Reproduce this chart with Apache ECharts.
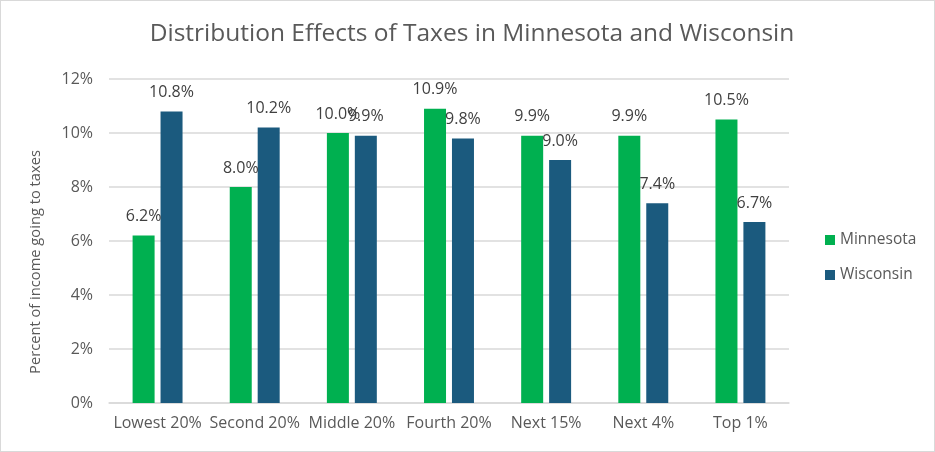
<!DOCTYPE html>
<html>
<head>
<meta charset="utf-8">
<script src="https://cdn.jsdelivr.net/npm/echarts@6/dist/echarts.min.js"></script>
<style>
  html, body { margin: 0; padding: 0; background: #fff; }
  #chart { width: 933px; height: 450px; border: 1px solid #d9d9d9; }
</style>
</head>
<body>
<div id="chart"></div>
<script>
// income groups
var categories = ['Lowest 20%', 'Second 20%', 'Middle 20%', 'Fourth 20%', 'Next 15%', 'Next 4%', 'Top 1%'];
// share of income going to taxes, percent
var minnesota = [6.2, 8.0, 10.0, 10.9, 9.9, 9.9, 10.5];
var wisconsin = [10.8, 10.2, 9.9, 9.8, 9.0, 7.4, 6.7];

var font = '"Open Sans", sans-serif';

var chart = echarts.init(document.getElementById('chart'));

function labelCfg() {
  return {
    show: true,
    position: 'top',
    distance: 11,
    color: '#404040',
    fontSize: 16,
    fontFamily: font,
    formatter: function (p) { return p.value.toFixed(1) + '%'; }
  };
}

chart.setOption({
  backgroundColor: '#fff',
  animation: false,
  title: {
    text: 'Distribution Effects of Taxes in Minnesota and Wisconsin',
    left: 466,
    top: 16,
    textAlign: 'center',
    textStyle: { color: '#595959', fontSize: 24.5, fontWeight: 'normal', fontFamily: font }
  },
  legend: {
    orient: 'vertical',
    left: 819,
    top: 226,
    itemWidth: 10,
    itemHeight: 10,
    itemGap: 19,
    icon: 'rect',
    textStyle: { color: '#595959', fontSize: 15.5, fontFamily: font }
  },
  grid: { left: 108, right: 145, top: 78, bottom: 48 },
  xAxis: {
    type: 'category',
    data: categories,
    axisLine: { lineStyle: { color: '#d9d9d9', width: 1.5 } },
    axisTick: { show: false },
    axisLabel: { color: '#595959', fontSize: 16, fontFamily: font, margin: 12, interval: 0 }
  },
  yAxis: {
    type: 'value',
    min: 0,
    max: 12,
    interval: 2,
    name: 'Percent of income going to taxes',
    nameLocation: 'middle',
    nameGap: 66,
    nameTextStyle: { color: '#595959', fontSize: 14.7, fontFamily: font, padding: [0, 42, 0, 0] },
    axisLine: { show: false },
    axisTick: { show: false },
    axisLabel: { color: '#595959', fontSize: 16, fontFamily: font, margin: 16, formatter: '{value}%' },
    splitLine: { lineStyle: { color: '#d9d9d9', width: 1.5 } }
  },
  series: [
    {
      name: 'Minnesota',
      type: 'bar',
      data: minnesota,
      barWidth: 22,
      barGap: '27%',
      itemStyle: { color: '#00b050' },
      label: labelCfg(),
      labelLayout: { moveOverlap: 'shiftX' }
    },
    {
      name: 'Wisconsin',
      type: 'bar',
      data: wisconsin,
      barWidth: 22,
      itemStyle: { color: '#1b5a7e' },
      label: labelCfg(),
      labelLayout: { moveOverlap: 'shiftX' }
    }
  ]
});
</script>
</body>
</html>
